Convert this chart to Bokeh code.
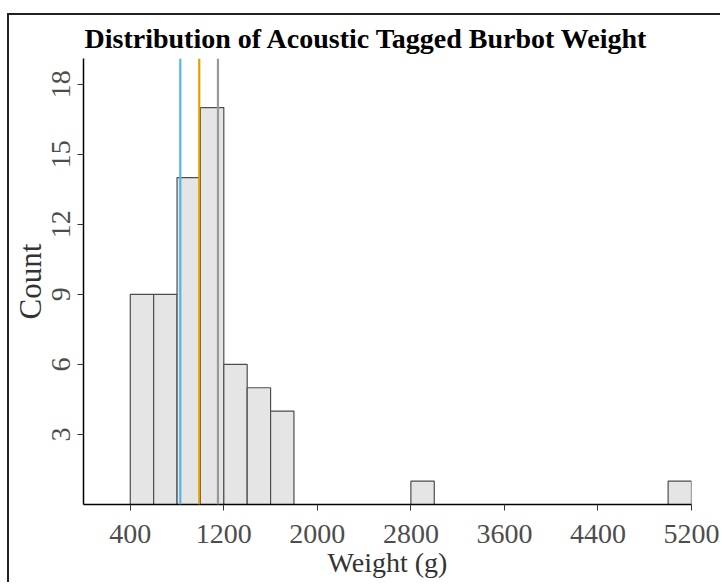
from bokeh.plotting import figure
from bokeh.models import Range1d, FixedTicker, Span, ColumnDataSource
from bokeh.embed import file_html
from bokeh.resources import INLINE

# Data
bin_starts = [400, 600, 800, 1000, 1200, 1400, 1600, 2800, 5000]
counts = [9, 9, 14, 17, 6, 5, 4, 1, 1]
bin_width = 200
line_values = [828, 990, 1150]
line_colors = ["#56B4E9", "#E69F00", "#999999"]
x_ticks = [400, 1200, 2000, 2800, 3600, 4400, 5200]
y_ticks = [3, 6, 9, 12, 15, 18]

src = ColumnDataSource(dict(
    left=bin_starts,
    right=[b + bin_width for b in bin_starts],
    top=counts,
    bottom=[0] * len(counts),
))

FONT = "Liberation Serif"

p = figure(width=713, height=569, output_backend="svg", toolbar_location=None,
           x_range=Range1d(0, 5200), y_range=Range1d(0, 19.1),
           min_border_left=72, min_border_right=31, min_border_top=43,
           min_border_bottom=80)

p.quad(left="left", right="right", top="top", bottom="bottom", source=src,
       fill_color="#E5E5E5", line_color="#4D4D4D", line_width=1.2)

for v, c in zip(line_values, line_colors):
    p.add_layout(Span(location=v, dimension="height", line_color=c, line_width=2.2))

p.title.text = "Distribution of Acoustic Tagged Burbot Weight"
p.title.text_font = FONT
p.title.text_font_size = "28px"
p.title.text_font_style = "bold"
p.title.text_color = "#000000"
p.title.align = "left"
p.title.offset = 1
p.title.standoff = 10

p.outline_line_color = None
p.xgrid.grid_line_color = None
p.ygrid.grid_line_color = None
p.background_fill_color = "white"
p.border_fill_color = "white"

p.xaxis.ticker = FixedTicker(ticks=x_ticks)
p.yaxis.ticker = FixedTicker(ticks=y_ticks)
p.xaxis.minor_tick_line_color = None
p.yaxis.minor_tick_line_color = None
for ax in (p.xaxis, p.yaxis):
    ax.axis_line_color = "#000000"
    ax.axis_line_width = 1.5
    ax.major_tick_line_color = "#333333"
    ax.major_tick_in = 0
    ax.major_tick_out = 6
    ax.major_label_text_font = FONT
    ax.major_label_text_font_size = "28px"
    ax.major_label_text_color = "#4D4D4D"
    ax.axis_label_text_font = FONT
    ax.axis_label_text_font_style = "normal"
    ax.axis_label_text_color = "#333333"

p.xaxis.axis_label = "Weight (g)"
p.xaxis.axis_label_text_font_size = "28px"
p.xaxis.major_label_standoff = 14
p.xaxis.axis_label_standoff = 1

p.yaxis.axis_label = "Count"
p.yaxis.axis_label_text_font_size = "31px"
p.yaxis.major_label_orientation = "vertical"
p.yaxis.major_label_standoff = 7
p.yaxis.axis_label_standoff = 2

p.styles = {"border-left": "2px solid #222222", "border-top": "2px solid #222222",
            "margin-left": "7px", "margin-top": "13px"}

open("out.html", "w").write(file_html(p, INLINE))
